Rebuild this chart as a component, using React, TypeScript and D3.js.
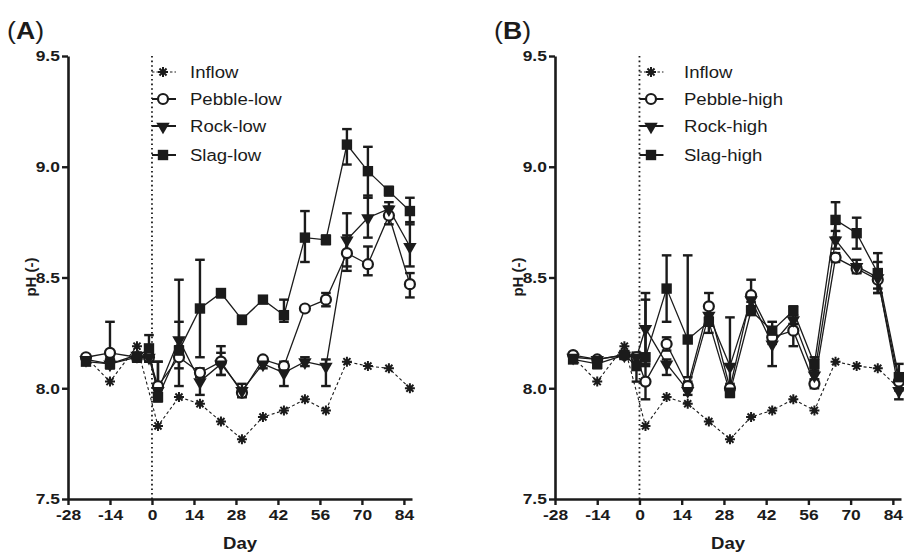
import React, { useEffect, useRef } from 'react';
import * as d3 from 'd3';

// sampling days (same for all reactor series)
const days = [-22, -14, -5, -1, 2, 9, 16, 23, 30, 37, 44, 51, 58, 65, 72, 79, 86];
const inflowDays = [-22, -14, -5, 2, 9, 16, 23, 30, 37, 44, 51, 58, 65, 72, 79, 86];
const inflowPH = [8.14, 8.03, 8.19, 7.83, 7.96, 7.93, 7.85, 7.77, 7.87, 7.90, 7.95, 7.90, 8.12, 8.10, 8.09, 8.00];

// panel A (low)
const pebbleLow = [8.14, 8.16, 8.14, 8.14, 8.01, 8.14, 8.07, 8.12, 7.98, 8.13, 8.10, 8.36, 8.40, 8.61, 8.56, 8.78, 8.47];
const pebbleLowUp = [0.01, 0.14, 0.02, 0.02, 0.11, 0.05, 0.02, 0.07, 0.02, 0.01, 0.02, 0.01, 0.03, 0.08, 0.08, 0.04, 0.05];
const pebbleLowDn = [0.01, 0.02, 0.02, 0.02, 0.02, 0.05, 0.02, 0.06, 0.02, 0.01, 0.02, 0.01, 0.03, 0.08, 0.05, 0.04, 0.06];
const rockLow = [8.13, 8.11, 8.15, 8.14, 7.99, 8.22, 8.03, 8.11, 7.99, 8.11, 8.07, 8.12, 8.10, 8.67, 8.77, 8.81, 8.64];
const rockLowUp = [0.01, 0.02, 0.01, 0.02, 0.02, 0.08, 0.02, 0.05, 0.03, 0.02, 0.04, 0.02, 0.03, 0.12, 0.10, 0.03, 0.11];
const rockLowDn = [0.01, 0.02, 0.01, 0.02, 0.02, 0.08, 0.06, 0.05, 0.03, 0.02, 0.06, 0.02, 0.09, 0.12, 0.09, 0.03, 0.09];
const slagLow = [8.12, 8.11, 8.14, 8.18, 7.96, 8.17, 8.36, 8.43, 8.31, 8.40, 8.33, 8.68, 8.67, 9.10, 8.98, 8.89, 8.80];
const slagLowUp = [0.01, 0.02, 0.02, 0.06, 0.16, 0.32, 0.22, 0.01, 0.01, 0.01, 0.07, 0.12, 0.02, 0.07, 0.11, 0.02, 0.06];
const slagLowDn = [0.01, 0.02, 0.02, 0.06, 0.02, 0.16, 0.22, 0.02, 0.02, 0.01, 0.03, 0.11, 0.02, 0.09, 0.12, 0.02, 0.06];

// panel B (high)
const pebbleHigh = [8.15, 8.13, 8.15, 8.14, 8.03, 8.20, 8.01, 8.37, 8.00, 8.42, 8.23, 8.26, 8.02, 8.59, 8.54, 8.49, 8.03];
const pebbleHighUp = [0.01, 0.01, 0.01, 0.02, 0.08, 0.03, 0.02, 0.06, 0.02, 0.07, 0.03, 0.03, 0.02, 0.02, 0.02, 0.04, 0.03];
const pebbleHighDn = [0.01, 0.01, 0.01, 0.02, 0.08, 0.03, 0.02, 0.06, 0.02, 0.03, 0.03, 0.07, 0.02, 0.02, 0.02, 0.04, 0.03];
const rockHigh = [8.14, 8.13, 8.15, 8.14, 8.27, 8.11, 7.99, 8.33, 8.10, 8.40, 8.20, 8.31, 8.06, 8.67, 8.55, 8.50, 7.99];
const rockHighUp = [0.01, 0.01, 0.01, 0.02, 0.16, 0.02, 0.02, 0.03, 0.22, 0.03, 0.03, 0.02, 0.02, 0.04, 0.03, 0.07, 0.03];
const rockHighDn = [0.01, 0.01, 0.01, 0.02, 0.16, 0.05, 0.02, 0.03, 0.12, 0.03, 0.10, 0.02, 0.02, 0.04, 0.03, 0.07, 0.04];
const slagHigh = [8.13, 8.11, 8.15, 8.10, 8.14, 8.45, 8.22, 8.30, 7.98, 8.35, 8.26, 8.35, 8.11, 8.76, 8.70, 8.52, 8.05];
const slagHighUp = [0.01, 0.02, 0.01, 0.02, 0.26, 0.15, 0.38, 0.02, 0.02, 0.02, 0.04, 0.02, 0.03, 0.08, 0.07, 0.09, 0.06];
const slagHighDn = [0.01, 0.02, 0.01, 0.07, 0.04, 0.15, 0.17, 0.05, 0.02, 0.02, 0.04, 0.02, 0.03, 0.08, 0.07, 0.09, 0.06];

const xTicks = [-28, -14, 0, 14, 28, 42, 56, 70, 84];
const yTicks = [7.5, 8.0, 8.5, 9.0, 9.5];

const INK = '#1b1b1b';
const FONT = '"Liberation Sans", Arial, Helvetica, sans-serif';
const SX = 1.16; // text in the figure is a bit wider than normal

type Kind = 'star' | 'circle' | 'tri' | 'square';
type Series = { name: string; kind: Kind; x: number[]; y: number[]; up?: number[]; dn?: number[] };

const panels = [
  {
    label: 'A', left: 68, right: 412, legendX: 163, legendText: 190,
    series: [
      { name: 'Inflow', kind: 'star', x: inflowDays, y: inflowPH },
      { name: 'Pebble-low', kind: 'circle', x: days, y: pebbleLow, up: pebbleLowUp, dn: pebbleLowDn },
      { name: 'Rock-low', kind: 'tri', x: days, y: rockLow, up: rockLowUp, dn: rockLowDn },
      { name: 'Slag-low', kind: 'square', x: days, y: slagLow, up: slagLowUp, dn: slagLowDn },
    ] as Series[],
  },
  {
    label: 'B', left: 555, right: 901, legendX: 651, legendText: 684,
    series: [
      { name: 'Inflow', kind: 'star', x: inflowDays, y: inflowPH },
      { name: 'Pebble-high', kind: 'circle', x: days, y: pebbleHigh, up: pebbleHighUp, dn: pebbleHighDn },
      { name: 'Rock-high', kind: 'tri', x: days, y: rockHigh, up: rockHighUp, dn: rockHighDn },
      { name: 'Slag-high', kind: 'square', x: days, y: slagHigh, up: slagHighUp, dn: slagHighDn },
    ] as Series[],
  },
];

function starPath(r: number) {
  const p = d3.path();
  for (let k = 0; k < 4; k++) {
    const a = (k * Math.PI) / 4;
    p.moveTo(-r * Math.cos(a), -r * Math.sin(a));
    p.lineTo(r * Math.cos(a), r * Math.sin(a));
  }
  return p.toString();
}

function drawMarker(g: any, kind: Kind, cx: number, cy: number) {
  if (kind === 'star') {
    g.append('path').attr('d', starPath(5)).attr('transform', `translate(${cx},${cy})`)
      .attr('stroke', INK).attr('stroke-width', 2).attr('fill', 'none');
  } else if (kind === 'circle') {
    g.append('circle').attr('cx', cx).attr('cy', cy).attr('r', 5)
      .attr('fill', '#fff').attr('stroke', INK).attr('stroke-width', 2.2);
  } else if (kind === 'tri') {
    g.append('path').attr('d', d3.symbol(d3.symbolTriangle, 78)())
      .attr('transform', `translate(${cx},${cy + 0.5}) rotate(180)`).attr('fill', INK);
  } else {
    g.append('rect').attr('x', cx - 5.2).attr('y', cy - 5.2).attr('width', 10.4).attr('height', 10.4).attr('fill', INK);
  }
}

function styleAxis(ax: any) {
  ax.attr('font-family', FONT);
  ax.select('.domain').attr('stroke', INK).attr('stroke-width', 2.6);
  ax.selectAll('.tick line').attr('stroke', INK).attr('stroke-width', 2.4);
  ax.selectAll('.tick text').attr('font-size', 15).attr('font-weight', 'bold').attr('fill', INK)
    .attr('transform', `scale(${SX},1)`);
}

function drawPanel(svg: any, p: typeof panels[number]) {
  const x = d3.scaleLinear().domain([-28, 86.7]).range([p.left, p.right]);
  const y = d3.scaleLinear().domain([7.5, 9.5]).range([499, 56]);
  const g = svg.append('g');

  // (A) / (B)
  const lab = g.append('text').attr('transform', `translate(${p.left - 61},39) scale(${SX},1)`)
    .attr('font-family', FONT).attr('font-size', 23).attr('fill', INK);
  lab.append('tspan').text('(');
  lab.append('tspan').attr('font-weight', 'bold').text(p.label);
  lab.append('tspan').text(')');

  // day 0 marker line
  g.append('line').attr('x1', x(0)).attr('x2', x(0)).attr('y1', y(9.5)).attr('y2', y(7.5))
    .attr('stroke', INK).attr('stroke-width', 1.8).attr('stroke-dasharray', '1.6,3');

  const ya = g.append('g').attr('transform', `translate(${p.left},0)`)
    .call(d3.axisLeft(y).tickValues(yTicks).tickFormat((d: any) => d.toFixed(1)).tickSize(6).tickSizeOuter(0).tickPadding(1));
  styleAxis(ya);
  const xa = g.append('g').attr('transform', `translate(0,${y(7.5)})`)
    .call(d3.axisBottom(x).tickValues(xTicks).tickFormat((d: any) => String(d)).tickSize(6).tickSizeOuter(0).tickPadding(4));
  styleAxis(xa);

  g.append('text').attr('transform', `translate(${(p.left + p.right) / 2},549) scale(${SX},1)`)
    .attr('text-anchor', 'middle').attr('font-family', FONT).attr('font-size', 16).attr('font-weight', 'bold')
    .attr('fill', INK).text('Day');
  g.append('text').attr('transform', `translate(${p.left - 32},277) rotate(-90)`)
    .attr('text-anchor', 'middle').attr('font-family', FONT).attr('font-size', 15).attr('font-weight', 'bold')
    .attr('fill', INK).text('pH (-)');

  // error bars
  const eb = g.append('g').attr('stroke', INK).attr('stroke-width', 2.4).attr('fill', 'none');
  p.series.forEach((s) => {
    if (!s.up || !s.dn) return;
    s.y.forEach((v, i) => {
      const cx = x(s.x[i]);
      const top = y(v + s.up![i]);
      const bot = y(v - s.dn![i]);
      eb.append('line').attr('x1', cx).attr('x2', cx).attr('y1', top).attr('y2', bot);
      eb.append('line').attr('x1', cx - 4.8).attr('x2', cx + 4.8).attr('y1', top).attr('y2', top);
      eb.append('line').attr('x1', cx - 4.8).attr('x2', cx + 4.8).attr('y1', bot).attr('y2', bot);
    });
  });

  // connecting lines
  p.series.forEach((s) => {
    const pts = s.y.map((v, i) => [x(s.x[i]), y(v)] as [number, number]);
    g.append('path').attr('d', d3.line()(pts)).attr('fill', 'none').attr('stroke', INK)
      .attr('stroke-width', s.kind === 'star' ? 1.1 : 1.3)
      .attr('stroke-dasharray', s.kind === 'star' ? '3,2.5' : null);
  });

  // markers
  p.series.forEach((s) => {
    const mg = g.append('g');
    s.y.forEach((v, i) => drawMarker(mg, s.kind, x(s.x[i]), y(v)));
  });

  // legend
  const legendY = [72, 99, 126, 155];
  p.series.forEach((s, i) => {
    const ly = legendY[i];
    g.append('line').attr('x1', x(0)).attr('x2', x(0) + 24).attr('y1', ly).attr('y2', ly)
      .attr('stroke', INK).attr('stroke-width', s.kind === 'star' ? 1.1 : 2)
      .attr('stroke-dasharray', s.kind === 'star' ? '2.5,2' : null);
    drawMarker(g, s.kind, p.legendX, ly);
    g.append('text').attr('transform', `translate(${p.legendText},${ly + 6}) scale(${SX},1)`)
      .attr('font-family', FONT).attr('font-size', 16).attr('fill', INK).text(s.name);
  });
}

export default function App() {
  const svgRef = useRef<SVGSVGElement>(null);

  useEffect(() => {
    if (!svgRef.current) return;
    const svg = d3.select(svgRef.current);
    svg.selectAll('*').remove();
    panels.forEach((p) => drawPanel(svg, p));
  }, []);

  return (
    <svg ref={svgRef} width={904} height={553}
      style={{ position: 'absolute', left: 0, top: 0, background: '#fff', display: 'block' }} />
  );
}
